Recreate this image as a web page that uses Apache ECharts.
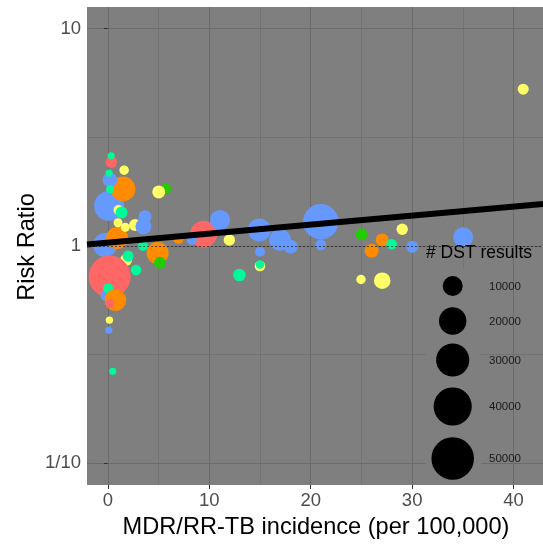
<!DOCTYPE html>
<html><head><meta charset="utf-8">
<script src="https://cdn.jsdelivr.net/npm/echarts@6/dist/echarts.min.js"></script>
<style>html,body{margin:0;padding:0;background:#fff}#c{width:543px;height:545px}</style>
</head><body><div id="c"></div>
<script>
// ---- data ----
const groupNames = ['red','orange','yellow','green','cyan','blue'];
const groupColors = ['#FF6666','#FF8C00','#FFFF66','#22CC00','#00FA9A','#6699FF'];
// each point: MDR/RR-TB incidence, risk ratio, # DST results, group index
const incidence = [-0.27,0.13,1.51,0.2,0.23,0.35,0.33,0.13,1.61,0.92,1.06,1.36,1.01,1.73,2.69,3.67,3.51,1.8,2.0,0.18,2.79,-0.14,0.03,0.75,0.2,0.16,0.1,0.49,3.48,4.91,5.15,5.74,5.02,6.96,9.44,8.28,11.06,11.98,12.97,14.94,16.98,18.03,15.0,15.0,15.0,20.99,20.99,25.02,24.96,26.01,27.05,27.98,27.05,29.02,30.01,35.03,40.95];
const riskRatio = [1.011,1.529,1.831,2.014,1.825,2.43,2.6,2.163,2.233,1.089,1.465,1.427,1.28,1.219,1.25,1.365,1.23,0.862,0.899,0.724,0.775,0.594,0.638,0.564,0.544,0.456,0.41,0.265,1.0,0.928,0.838,1.837,1.774,1.077,1.133,1.066,1.318,1.066,0.735,1.185,1.066,0.993,0.941,0.809,0.822,1.294,1.011,1.132,0.701,0.951,1.066,1.018,0.692,1.194,0.993,1.097,5.27];
const dstResults = [15000,24200,15830,4690,455,2330,100,100,1150,12390,1477,2730,940,940,2730,3440,5900,2730,2070,48750,1830,2730,1477,11890,940,190,100,100,1477,12390,2730,1477,3440,1477,19340,1477,10000,2330,3150,13660,11890,4200,1477,1830,740,34240,2070,2730,1150,4200,3440,1830,6470,2330,2730,10000,2070];
const group = [5,5,1,5,4,0,4,4,2,1,2,4,2,2,2,5,5,2,4,0,4,5,4,1,0,2,5,4,4,1,3,3,2,1,0,5,5,2,4,5,5,5,5,2,4,5,5,3,2,1,1,4,2,2,5,5,2];

const xTicks = [0,10,20,30,40];
const xMinor = [5,15,25,35];
const yTicks = [0.1,1,10];
const yTickLabels = ['1/10','1','10'];
const yMinor = [0.3162,3.162];
const legendValues = [10000,20000,30000,40000,50000];
const fitIntercept = 0.015;   // log10(RR) at incidence 0
const fitSlope = 0.00416;     // log10(RR) per unit incidence

// ---- layout ----
const X_MIN = -2.05, X_MAX = 42.9;
const Y_MIN = Math.pow(10,-1.1), Y_MAX = Math.pow(10,1.1);
const FONT = '"Liberation Sans", Arial, sans-serif';
const GRID_COL = '#6B6B6B';
function radius(v){ return Math.sqrt(12 + 0.0088*v); }

const points = incidence.map((x,i)=>[x, riskRatio[i], dstResults[i], group[i]]);
const fitLine = [X_MIN, X_MAX].map(x=>[x, Math.pow(10, fitIntercept + fitSlope*x)]);

const chart = echarts.init(document.getElementById('c'), null, {renderer:'canvas'});

const legendY = [286,321,360,406.5,458.5];
const legendGraphics = [
  {type:'rect', shape:{x:426,y:268,width:55,height:216}, style:{fill:'#7F7F7F'}, z:5},
  {type:'text', x:426, y:253, style:{text:'# DST results', fontSize:17.5, fontFamily:FONT, fill:'#000', align:'left', verticalAlign:'middle'}, z:10}
];
legendValues.forEach((v,i)=>{
  legendGraphics.push({type:'circle', shape:{cx:452.7, cy:legendY[i], r:radius(v)}, style:{fill:'#000'}, z:10});
  legendGraphics.push({type:'text', x:489, y:legendY[i]+0.5, style:{text:String(v), fontSize:11.5, fontFamily:FONT, fill:'#1a1a1a', align:'left', verticalAlign:'middle'}, z:10});
});

chart.setOption({
  animation:false,
  grid:{left:87, right:0, top:7, bottom:60, show:true, backgroundColor:'#7F7F7F', borderWidth:0},
  xAxis:[{
    type:'value', min:X_MIN, max:X_MAX,
    axisLine:{show:false},
    axisTick:{show:true, customValues:xTicks, length:4, lineStyle:{color:'#333'}},
    axisLabel:{customValues:xTicks, fontSize:18.5, fontFamily:FONT, color:'#4D4D4D', margin:6},
    splitLine:{show:true, lineStyle:{color:GRID_COL, width:1}}
  },{
    type:'value', min:X_MIN, max:X_MAX, position:'top',
    axisLine:{show:false}, axisTick:{show:false, customValues:xMinor}, axisLabel:{show:false},
    splitLine:{show:true, lineStyle:{color:GRID_COL, width:0.6}}
  }],
  yAxis:[{
    type:'log', logBase:10, min:Y_MIN, max:Y_MAX,
    axisLine:{show:false},
    axisTick:{show:true, customValues:yTicks, length:4, lineStyle:{color:'#333'}},
    axisLabel:{customValues:yTicks, fontSize:18.5, fontFamily:FONT, color:'#4D4D4D', margin:6,
      formatter:function(v){ for(let i=0;i<yTicks.length;i++){ if(Math.abs(v-yTicks[i])<1e-9*Math.max(1,yTicks[i])) return yTickLabels[i]; } return ''; }},
    splitLine:{show:true, lineStyle:{color:GRID_COL, width:1}}
  },{
    type:'log', logBase:10, min:Y_MIN, max:Y_MAX, position:'right',
    axisLine:{show:false}, axisTick:{show:false, customValues:yMinor}, axisLabel:{show:false},
    splitLine:{show:true, lineStyle:{color:GRID_COL, width:0.6}}
  }],
  series:[
    {type:'scatter', data:[], z:1, silent:true,
     markLine:{silent:true, symbol:'none', label:{show:false},
       lineStyle:{color:'#2a2a2a', type:[2,2], width:0.8}, data:[{yAxis:1}]}},
    {type:'scatter', data:points, z:2,
     symbolSize:function(val){ return 2*radius(val[2]); },
     itemStyle:{opacity:1, color:function(p){ return groupColors[p.data[3]]; }}},
    {type:'line', data:fitLine, z:3, symbol:'none', silent:true,
     lineStyle:{color:'#000', width:6, cap:'butt'}}
  ],
  graphic:[
    {type:'text', x:316, y:527, style:{text:'MDR/RR-TB incidence (per 100,000)', fontSize:23.6, fontFamily:FONT, fill:'#000', align:'center', verticalAlign:'middle'}},
    {type:'text', x:27, y:247, rotation:Math.PI/2, style:{text:'Risk Ratio', fontSize:23.6, fontFamily:FONT, fill:'#000', align:'center', verticalAlign:'middle'}}
  ].concat(legendGraphics)
});
</script></body></html>
